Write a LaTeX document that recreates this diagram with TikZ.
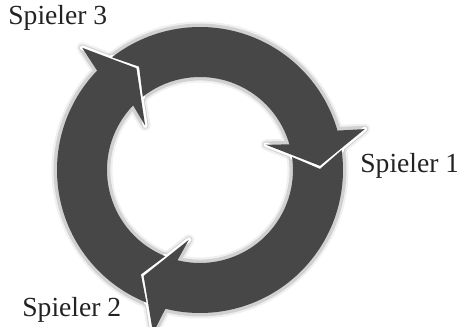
\documentclass[tikz,border=0pt]{standalone}
\usepackage{fontspec}
\setmainfont{Liberation Serif}
\usepackage{tikz}
\usetikzlibrary{calc}

\definecolor{ringgray}{HTML}{474747}
\definecolor{labelgray}{HTML}{222222}

\begin{document}
\begin{tikzpicture}[x=0.5pt, y=0.5pt,
  halo/.style={draw=black!30, line width=3.4pt, line join=round, opacity=0.5,
    preaction={draw=black!15, line width=5.5pt, line join=round, opacity=0.4}},
  seam/.style={draw=white, line width=2.4pt, line cap=round, line join=round},
  arrowpart/.style={fill=ringgray},
  player/.style={anchor=base west, inner sep=0pt, text=labelgray, font=\fontsize{13.8}{16}\selectfont}]

  \useasboundingbox (-200,170) rectangle (257,-157);

  % Soft edge under the three arrows (tail/notch/head base/tip angles)
  \foreach \tail/\notch/\base/\tip in {128/120.5/16/2, 8/0.5/-104/-118, -112/-119.5/-224/-238} {
    \path[halo] (\tail:143) arc[start angle=\tail, end angle=\base, radius=143]
      -- ($(\base:120)!25pt!90:(\tip:120)$) -- (\tip:120)
      -- ($(\base:120)!25pt!-90:(\tip:120)$) -- (\base:93)
      arc[start angle=\base, end angle=\tail, radius=93]
      -- (\notch:120) -- cycle;
  }

  % White seams where a head meets the next tail
  \foreach \tail/\notch/\base/\tip in {128/120.5/16/2, 8/0.5/-104/-118, -112/-119.5/-224/-238} {
    \path[seam] ($(\base:120)!25pt!90:(\tip:120)$) -- (\tip:120) -- ($(\base:120)!25pt!-90:(\tip:120)$)
      (\tail:93) -- (\notch:120) -- (\tail:143);
  }

  % Arrows, clockwise
  \foreach \tail/\notch/\base/\tip in {128/120.5/16/2, 8/0.5/-104/-118, -112/-119.5/-224/-238} {
    \path[arrowpart] (\tail:143) arc[start angle=\tail, end angle=\base, radius=143]
      -- ($(\base:120)!25pt!90:(\tip:120)$) -- (\tip:120)
      -- ($(\base:120)!25pt!-90:(\tip:120)$) -- (\base:93)
      arc[start angle=\base, end angle=\tail, radius=93]
      -- (\notch:120) -- cycle;
  }

  % Labels
  \node[player] (spieler3) at (-192,145) {Spieler 3};
  \node[player] (spieler1) at (160,-3) {Spieler 1};
  \node[player] (spieler2) at (-178,-147) {Spieler 2};
\end{tikzpicture}
\end{document}
